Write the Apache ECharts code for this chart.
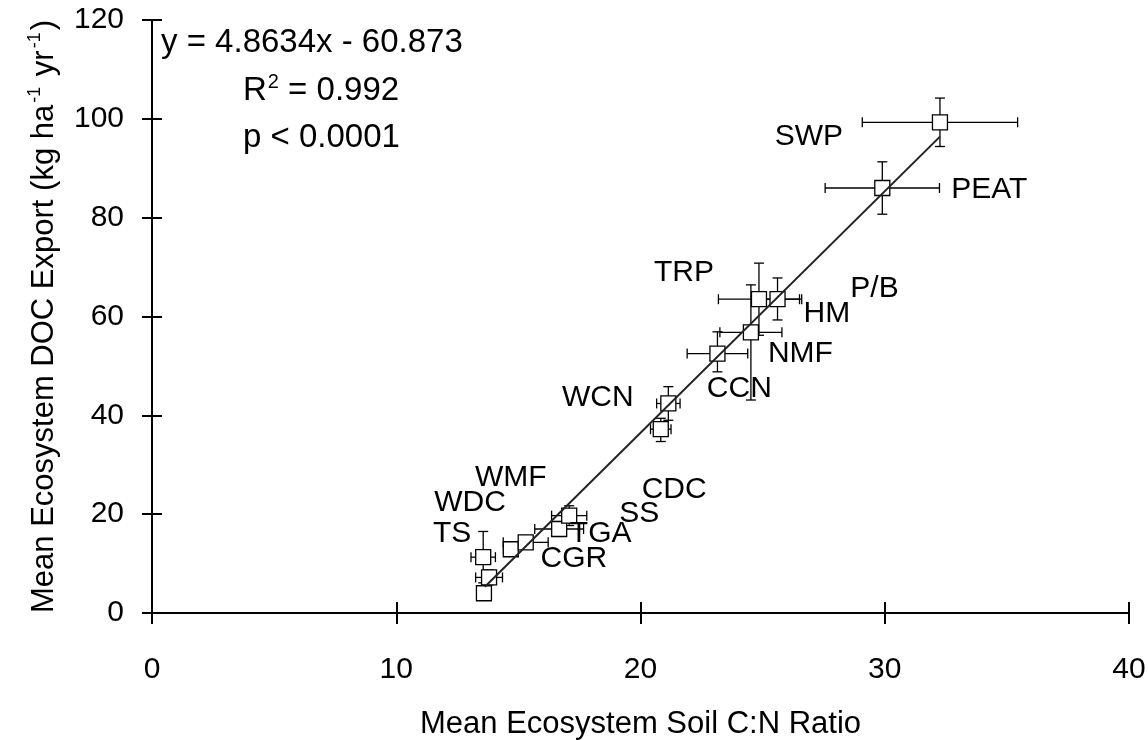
<!DOCTYPE html>
<html><head><meta charset="utf-8">
<script src="https://cdn.jsdelivr.net/npm/echarts@6/dist/echarts.min.js"></script>
<style>html,body{margin:0;padding:0;background:#fff}#c{width:1148px;height:740px}</style>
</head><body><div id="c"></div>
<script>
// ---- data ----
const siteNames  = ['CGR','WDC','TS','WMF','TGA','SS','CDC','WCN','CCN','NMF','HM','TRP','P/B','PEAT','SWP'];
const soilCN     = [13.59, 13.80, 13.56, 14.69, 15.30, 16.67, 17.08, 20.83, 21.14, 23.15, 24.52, 24.85, 25.61, 29.90, 32.26];
const docExport  = [ 4.0,   7.2,  11.3,  12.9,  14.3,  17.0,  19.7,  37.2,  42.4,  52.5,  56.8,  63.5,  63.5,  86.0,  99.3];
const cnErr      = [ 0,     0.55,  0.50,  0.30,  0.92,  1.00,  0.72,  0.42,  0.48,  1.24,  1.27,  1.66,  0.99,  2.34,  3.18];
const docErrUp   = [ 0,     1.5,   5.2,   0,     0,     1.5,   2.0,   2.2,   3.4,   4.4,   9.6,   7.3,   4.3,   5.3,   4.9];
const docErrDown = [ 0,     1.5,   5.2,   0,     0,     1.5,   2.0,   2.5,   3.4,   3.7,  13.7,   7.3,   4.2,   5.3,   4.9];
const fitX = [13.63, 32.26];
const fitY = [5.3, 96.4];
const xTicks = [0, 10, 20, 30, 40];
const yTicks = [0, 20, 40, 60, 80, 100, 120];
const eqText = ['y = 4.8634x - 60.873', '0.992', 'p < 0.0001'];

// ---- layout: label offsets (px) relative to each point ----
const labelOffset = {
  'CGR':[90,-34], 'WDC':[-19,-75], 'TS':[-31,-23], 'WMF':[0,-72], 'TGA':[75,-9],
  'SS':[80,-15], 'CDC':[105,-26], 'WCN':[-63,-31], 'CCN':[71,-15], 'NMF':[83,0],
  'HM':[76,-19], 'TRP':[-75,-26], 'P/B':[97,-10], 'PEAT':[107,2], 'SWP':[-131,14]
};

const FONT = '"Liberation Sans", Arial, Helvetica, sans-serif';
const chart = echarts.init(document.getElementById('c'), null, {renderer:'canvas'});

const pts = siteNames.map((n,i)=>({
  name:n, value:[soilCN[i], docExport[i]],
  label:{offset: labelOffset[n]}
}));
const errData = siteNames.map((n,i)=>[soilCN[i], docExport[i], cnErr[i], docErrUp[i], docErrDown[i]]);

function errRender(params, api){
  const x = api.value(0), y = api.value(1), xe = api.value(2), yu = api.value(3), yd = api.value(4);
  const c = api.coord([x,y]);
  const cap = 5;
  const st = {stroke:'#000', lineWidth:1.3};
  const ch = [];
  if (xe > 0){
    const l = api.coord([x-xe,y]), r = api.coord([x+xe,y]);
    ch.push({type:'line', shape:{x1:l[0],y1:c[1],x2:r[0],y2:c[1]}, style:st});
    ch.push({type:'line', shape:{x1:l[0],y1:c[1]-cap,x2:l[0],y2:c[1]+cap}, style:st});
    ch.push({type:'line', shape:{x1:r[0],y1:c[1]-cap,x2:r[0],y2:c[1]+cap}, style:st});
  }
  if (yu > 0 || yd > 0){
    const t = api.coord([x,y+yu]), b = api.coord([x,y-yd]);
    ch.push({type:'line', shape:{x1:c[0],y1:t[1],x2:c[0],y2:b[1]}, style:st});
    if (yu>0) ch.push({type:'line', shape:{x1:c[0]-cap,y1:t[1],x2:c[0]+cap,y2:t[1]}, style:st});
    if (yd>0) ch.push({type:'line', shape:{x1:c[0]-cap,y1:b[1],x2:c[0]+cap,y2:b[1]}, style:st});
  }
  return {type:'group', children:ch};
}

const axisCommon = {
  axisLine:{show:true, lineStyle:{color:'#000', width:2}},
  splitLine:{show:false}
};

chart.setOption({
  backgroundColor:'#fff',
  animation:false,
  textStyle:{fontFamily:FONT},
  grid:{left:152, right:19, top:20, bottom:127, containLabel:false, outerBoundsMode:'none'},
  xAxis:[
    Object.assign({}, axisCommon, {
      type:'value', min:xTicks[0], max:xTicks[xTicks.length-1], interval:xTicks[1]-xTicks[0],
      position:'bottom',
      axisTick:{show:true, inside:false, length:11, lineStyle:{color:'#000', width:2}},
      axisLabel:{fontSize:30, color:'#000', margin:42, fontFamily:FONT},
      name:'Mean Ecosystem Soil C:N Ratio', nameLocation:'middle', nameGap:96,
      nameTextStyle:{fontSize:31, color:'#000', fontFamily:FONT}
    }),
    {
      type:'value', min:xTicks[0], max:xTicks[xTicks.length-1], interval:xTicks[1]-xTicks[0],
      position:'bottom', axisLine:{show:false},
      axisTick:{show:true, inside:true, length:11, lineStyle:{color:'#000', width:2}},
      axisLabel:{show:false}, splitLine:{show:false}
    }
  ],
  yAxis:[
    Object.assign({}, axisCommon, {
      type:'value', min:yTicks[0], max:yTicks[yTicks.length-1], interval:yTicks[1]-yTicks[0],
      position:'left',
      axisTick:{show:true, inside:false, length:10, lineStyle:{color:'#000', width:2}},
      axisLabel:{fontSize:30, color:'#000', margin:28, fontFamily:FONT},
      name:'{a|Mean Ecosystem DOC Export (kg ha}{s|-1}{a| yr}{s|-1}{a|)}',
      nameLocation:'middle', nameGap:90,
      nameTextStyle:{fontSize:31, color:'#000', fontFamily:FONT,
        rich:{
          a:{fontSize:31, color:'#000', fontFamily:FONT, lineHeight:36},
          s:{fontSize:18, color:'#000', fontFamily:FONT, verticalAlign:'top', lineHeight:36, padding:[0,2,14,2]}
        }}
    }),
    {
      type:'value', min:yTicks[0], max:yTicks[yTicks.length-1], interval:yTicks[1]-yTicks[0],
      position:'left', axisLine:{show:false},
      axisTick:{show:true, inside:true, length:10, lineStyle:{color:'#000', width:2}},
      axisLabel:{show:false}, splitLine:{show:false}
    }
  ],
  graphic:[
    {type:'text', left:161, top:26, z:100, style:{text:eqText[0], font:'33px '+FONT, fill:'#000'}},
    {type:'text', left:243, top:72, z:100, style:{
      text:'{a|R}{s|2}{a| = '+eqText[1]+'}', fill:'#000',
      rich:{a:{fontSize:33, fontFamily:FONT, fill:'#000', lineHeight:38},
            s:{fontSize:20, fontFamily:FONT, fill:'#000', verticalAlign:'top', lineHeight:38, padding:[0,0,14,1]}}
    }},
    {type:'text', left:243, top:121, z:100, style:{text:eqText[2], font:'33px '+FONT, fill:'#000'}}
  ],
  series:[
    {
      type:'custom', name:'err', xAxisIndex:0, yAxisIndex:0,
      renderItem:errRender, data:errData, encode:{x:0, y:1}, z:2, silent:true
    },
    {
      type:'scatter', name:'sites', xAxisIndex:0, yAxisIndex:0,
      symbol:'rect', symbolSize:15, z:3, silent:true,
      itemStyle:{color:'#fff', borderColor:'#000', borderWidth:1.3, opacity:1},
      label:{show:true, position:'inside', formatter:'{b}', fontSize:30, color:'#000',
             opacity:1, textBorderWidth:0, fontFamily:FONT},
      data:pts
    },
    {
      type:'line', name:'fit', xAxisIndex:0, yAxisIndex:0, z:5, silent:true,
      symbol:'none', lineStyle:{color:'#222', width:2},
      data: fitX.map((x,i)=>[x, fitY[i]])
    }
  ]
});
</script>
</body></html>
